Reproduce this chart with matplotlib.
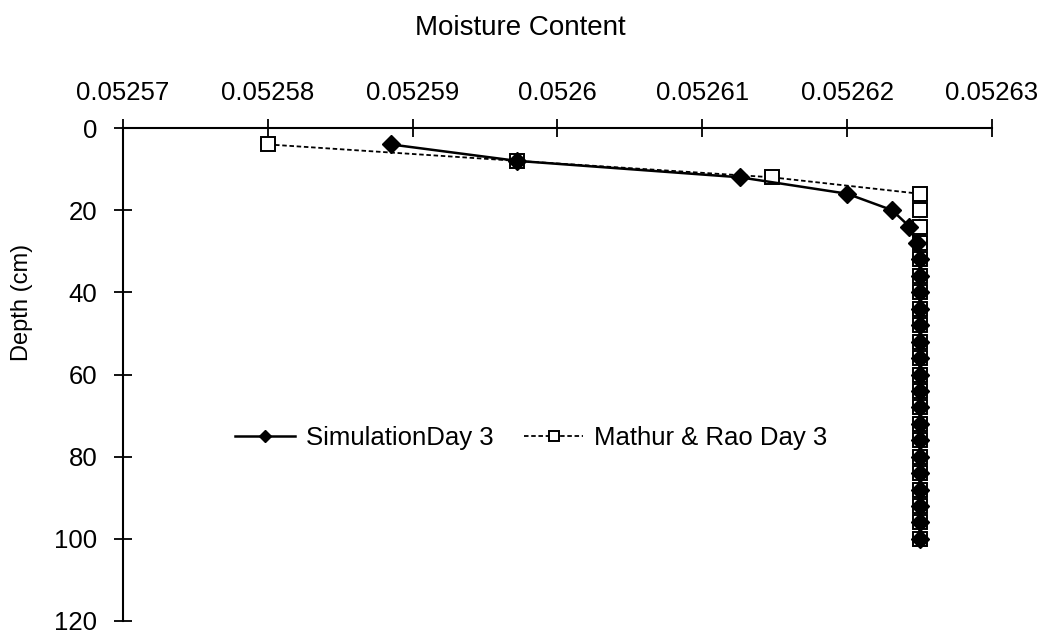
import numpy as np
import matplotlib
matplotlib.use("Agg")
import matplotlib.pyplot as plt

plt.rcParams['font.family'] = ['Liberation Sans', 'DejaVu Sans']

# depth (cm), every 4 cm
depth = list(range(4, 101, 4))

sim = [0.0525885, 0.0525972, 0.0526126, 0.0526200, 0.0526231, 0.0526243, 0.0526248] + [0.052625] * 18
mathur = [0.052580, 0.0525972, 0.0526148, 0.052625] + [0.052625] * 21

xticks = [0.05257, 0.05258, 0.05259, 0.0526, 0.05261, 0.05262, 0.05263]
xlabels = ['0.05257', '0.05258', '0.05259', '0.0526', '0.05261', '0.05262', '0.05263']
yticks = [0, 20, 40, 60, 80, 100, 120]

fs = 18.5

fig = plt.figure(figsize=(10.5, 6.4), dpi=100)
ax = fig.add_axes([123/1050, 1 - 621/640, (992-123)/1050, (621-128)/640])

ax.plot(mathur, depth, linestyle=(0, (2.5, 1.5)), color='black', lw=1.3,
        marker='s', markersize=10.5, markerfacecolor='white', markeredgecolor='black',
        markeredgewidth=1.4, label='Mathur & Rao Day 3')
ax.plot(sim, depth, linestyle='-', color='black', lw=1.8,
        marker='D', markersize=9, markerfacecolor='black', markeredgecolor='black',
        label='SimulationDay 3')

ax.set_xlim(0.05257, 0.05263)
ax.set_ylim(120, 0)
ax.xaxis.tick_top()
ax.xaxis.set_label_position('top')
ax.set_xticks(xticks)
ax.set_xticklabels(xlabels)
ax.set_yticks(yticks)
ax.tick_params(direction='inout', length=13, width=1.3, labelsize=fs)
ax.tick_params(axis='y', pad=12)
ax.tick_params(axis='x', pad=10)
for s in ['right', 'bottom']:
    ax.spines[s].set_visible(False)
for s in ['left', 'top']:
    ax.spines[s].set_linewidth(1.5)

ax.set_xlabel('Moisture Content', fontsize=20)
ax.xaxis.set_label_coords(0.457, 1.203)
ax.xaxis.label.set_verticalalignment('center')
ax.set_ylabel('Depth (cm)', fontsize=17)
ax.yaxis.set_label_coords(-0.116, 0.647)
ax.yaxis.label.set_verticalalignment('center')

h, l = ax.get_legend_handles_labels()
ax.legend([h[1], h[0]], [l[1], l[0]], loc='center', bbox_to_anchor=(0.47, 0.371),
          ncol=2, frameon=False, fontsize=fs, handlelength=2.3, columnspacing=1.2,
          handletextpad=0.43, markerscale=0.7)

fig.savefig('out.png', dpi=100)
